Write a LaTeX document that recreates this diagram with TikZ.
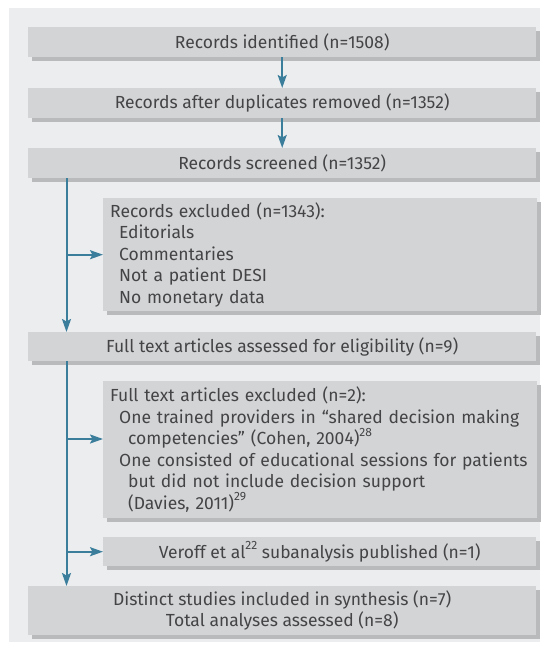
\documentclass[tikz,border=0pt]{standalone}
\usepackage{fontspec}
\setmainfont{Fira Sans}
\usetikzlibrary{arrows.meta,shadows}
\definecolor{panelc}{HTML}{ECEDEF}
\definecolor{boxc}{HTML}{D3D4D6}
\definecolor{shadc}{HTML}{B9BABC}
\definecolor{arrc}{HTML}{3A7E9B}
\definecolor{txtc}{HTML}{444446}
\newcommand\supnum[1]{\raisebox{0.48em}{\fontsize{12}{12}\selectfont #1}}
\tikzset{
  box/.style={fill=boxc, draw=none, inner sep=0pt, text=txtc,
    font=\fontsize{17.5}{21.5}\selectfont,
    drop shadow={shadow xshift=4pt, shadow yshift=-4pt, fill=shadc, opacity=1}},
  wide/.style={box, minimum width=508pt, anchor=north west, align=center},
  narrow/.style={box, minimum width=433pt, anchor=north west},
  arr/.style={draw=arrc, line width=2pt, -{Stealth[length=13pt,width=9pt,inset=2.5pt]}}
}
\begin{document}
\begin{tikzpicture}[x=1pt,y=-1pt]
\useasboundingbox (0,0) rectangle (550,650);
\fill[panelc] (9,8) rectangle (540,642);
\node[wide, minimum height=30pt] (b1) at (28,27) {Records identified (n=1508)};
\node[wide, minimum height=30pt] (b2) at (28,88) {Records after duplicates removed (n=1352)};
\node[wide, minimum height=30pt] (b3) at (28,148) {Records screened (n=1352)};
\node[narrow, minimum height=113pt, text width=420pt, inner xsep=7pt, align=left] (b4) at (103,198)
  {Records excluded (n=1343):\\
   \hspace*{9pt}Editorials\\
   \hspace*{9pt}Commentaries\\
   \hspace*{9pt}Not a patient DESI\\
   \hspace*{9pt}No monetary data};
\node[wide, minimum height=29pt] (b5) at (28,332) {Full text articles assessed for eligibility (n=9)};
\node[narrow, minimum height=137pt, text width=420pt, inner xsep=7pt, align=left] (b6) at (103,381)
  {Full text articles excluded (n=2):\\
   \hspace*{9pt}One trained providers in “shared decision making\\
   \hspace*{18pt}competencies” (Cohen, 2004)\supnum{28}\\
   \hspace*{9pt}One consisted of educational sessions for patients\\
   \hspace*{18pt}but did not include decision support\\
   \hspace*{18pt}(Davies, 2011)\supnum{29}};
\node[narrow, minimum height=29pt, align=center] (b7) at (103,537) {Veroff et al\supnum{22} subanalysis published (n=1)};
\node[wide, minimum height=49pt] (b8) at (28,586) {Distinct studies included in synthesis (n=7)\\Total analyses assessed (n=8)};
\coordinate (c1) at (66.5,0);
\coordinate (br6) at (0,439);
\draw[arr] (b1.south) -- (b2.north);
\draw[arr] (b2.south) -- (b3.north);
\draw[arr] (b3.south -| c1) -- (b5.north -| c1);
\draw[arr] (b4.west -| c1) -- (b4.west);
\draw[arr] (b5.south -| c1) -- (b8.north -| c1);
\draw[arr] (c1 |- br6) -- (b6.west |- br6);
\draw[arr] (b7.west -| c1) -- (b7.west);
\end{tikzpicture}
\end{document}
